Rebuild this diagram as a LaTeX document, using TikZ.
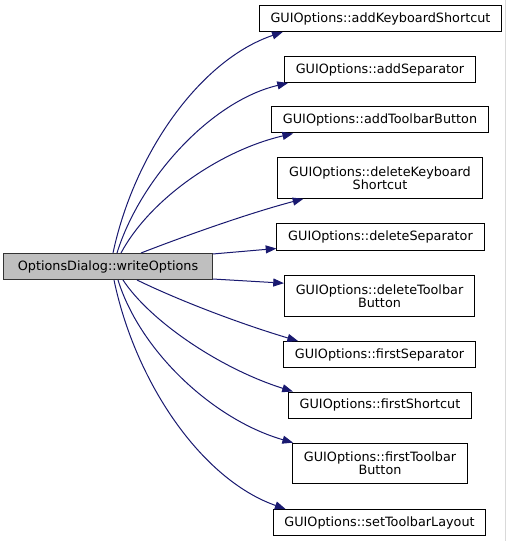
\documentclass[tikz,border=0pt]{standalone}
\usepackage{fontspec}
\setmainfont{DejaVu Sans}
\usepackage{tikz}
\usetikzlibrary{arrows.meta}

\definecolor{callblue}{HTML}{191970}

\begin{document}
\begin{tikzpicture}[x=0.75pt,y=-0.75pt,
    fn/.style={draw=black,line width=0.75pt,fill=white,align=center,
      font=\fontsize{9.6}{10}\selectfont,inner xsep=8.5pt,inner ysep=4.5pt,
      minimum height=19.5pt},
    two/.style={fn,minimum height=30.5pt},
    root/.style={fn,fill=black!25,draw=black!80,inner xsep=10.5pt},
    call/.style={callblue,line width=0.75pt,-{Triangle[length=8pt,width=6pt]}}]
  \useasboundingbox[fill=white] (0,0) rectangle (507,541);
  \draw[black!15] (505.5,0) -- (505.5,541);
  % caller
  \node[root] (wo) at (108,266.5) {OptionsDialog::writeOptions};
  % callees
  \node[fn] (n1) at (380.5,18.5) {GUIOptions::addKeyboardShortcut};
  \node[fn] (n2) at (380,69.5) {GUIOptions::addSeparator};
  \node[fn] (n3) at (380,120) {GUIOptions::addToolbarButton};
  \node[two] (n4) at (380,178) {GUIOptions::deleteKeyboard\\Shortcut};
  \node[fn] (n5) at (380.5,237) {GUIOptions::deleteSeparator};
  \node[two] (n6) at (379.5,296) {GUIOptions::deleteToolbar\\Button};
  \node[fn] (n7) at (379.5,354.5) {GUIOptions::firstSeparator};
  \node[fn] (n8) at (380,405) {GUIOptions::firstShortcut};
  \node[two] (n9) at (380,463.5) {GUIOptions::firstToolbar\\Button};
  \node[fn] (n10) at (379.5,522.5) {GUIOptions::setToolbarLayout};
  % calls
  \draw[call] ([xshift=3.75pt]wo.north) .. controls +(21,-99) and +(-83,28) .. ([xshift=18pt]n1.south west);
  \draw[call] ([xshift=6.75pt]wo.north) .. controls +(23,-74) and +(-77,18) .. ([xshift=3pt]n2.south west);
  \draw[call] ([xshift=9.75pt]wo.north) .. controls +(29,-54) and +(-73,17) .. ([xshift=16.5pt]n3.south west);
  \draw[call] ([xshift=24.75pt]wo.north) .. controls +(49,-19) and +(-53,14) .. ([xshift=19.5pt]n4.south west);
  \draw[call] ([yshift=-0.75pt]wo.north east) -- ([yshift=1.5pt]n5.south west);
  \draw[call] ([yshift=0.75pt]wo.south east) -- ([yshift=-6pt]n6.north west);
  \draw[call] ([xshift=21.75pt]wo.south) .. controls +(43,21) and +(-57,-17) .. ([xshift=11.25pt]n7.north west);
  \draw[call] ([xshift=11.25pt]wo.south) .. controls +(27,41) and +(-73,-23) .. ([xshift=3.75pt]n8.north west);
  \draw[call] ([xshift=7.5pt]wo.south) .. controls +(22,71) and +(-80,-23) .. ([xshift=0.75pt]n9.north west);
  \draw[call] ([xshift=4.5pt]wo.south) .. controls +(21,101) and +(-85,-30) .. ([xshift=9.75pt]n10.north west);
\end{tikzpicture}
\end{document}
